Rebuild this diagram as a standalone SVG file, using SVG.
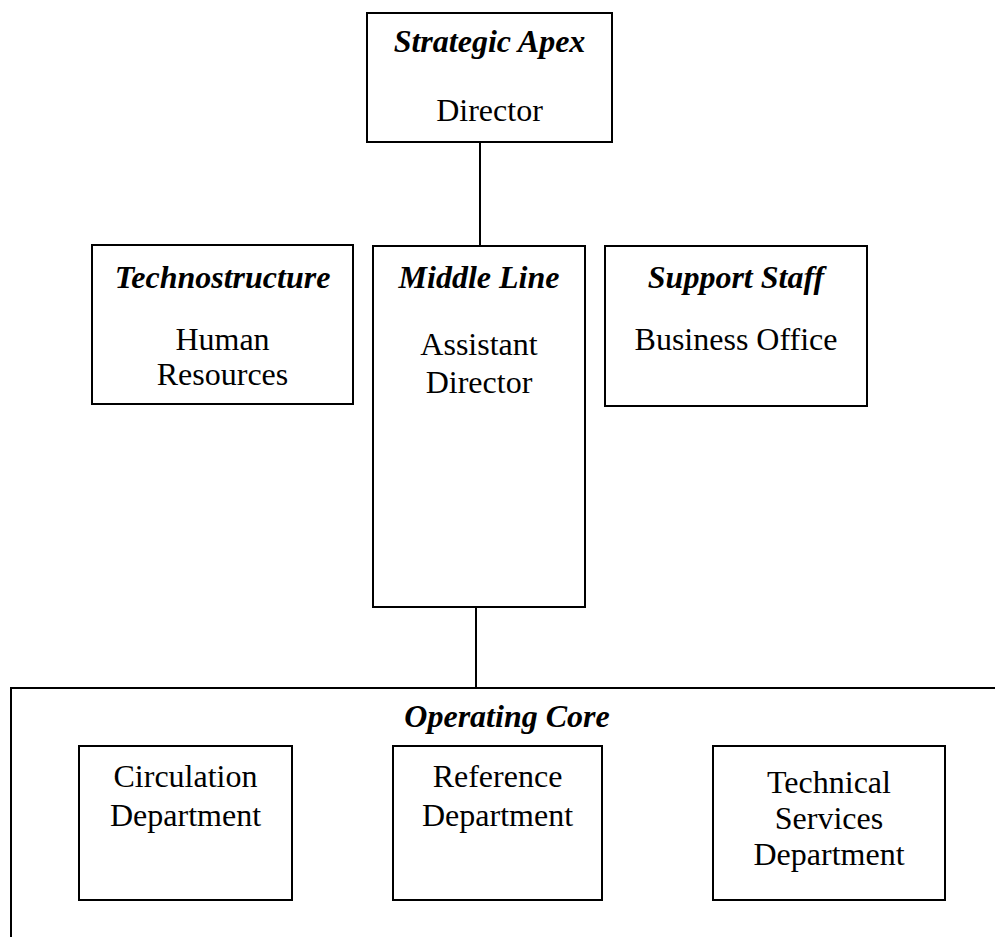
<svg xmlns="http://www.w3.org/2000/svg" width="995" height="937" viewBox="0 0 995 937">
  <style>
    .box { fill: #ffffff; stroke: #000000; stroke-width: 2; }
    .wire { fill: none; stroke: #000000; stroke-width: 2; }
    text { font-family: "Liberation Serif", "Times New Roman", serif; font-size: 32px; fill: #000000; text-anchor: middle; }
    .title { font-weight: bold; font-style: italic; }
  </style>
  <rect width="995" height="937" fill="#ffffff"/>

  <g id="connectors">
    <line class="wire" x1="480" y1="142" x2="480" y2="246"/>
    <line class="wire" x1="476" y1="607" x2="476" y2="688"/>
    <!-- operating core frame (open on the right and bottom) -->
    <polyline class="wire" points="11,937 11,688 995,688"/>
  </g>

  <g id="strategic-apex">
    <rect class="box" x="367" y="13" width="245" height="129"/>
    <text class="title" x="489.5" y="52">Strategic Apex</text>
    <text x="489.5" y="121">Director</text>
  </g>

  <g id="technostructure">
    <rect class="box" x="92" y="245" width="261" height="159"/>
    <text class="title" x="222.5" y="288">Technostructure</text>
    <text x="222.5" y="350">Human</text>
    <text x="222.5" y="385">Resources</text>
  </g>

  <g id="middle-line">
    <rect class="box" x="373" y="246" width="212" height="361"/>
    <text class="title" x="479" y="288">Middle Line</text>
    <text x="479" y="355">Assistant</text>
    <text x="479" y="393">Director</text>
  </g>

  <g id="support-staff">
    <rect class="box" x="605" y="246" width="262" height="160"/>
    <text class="title" x="736" y="288">Support Staff</text>
    <text x="736" y="350">Business Office</text>
  </g>

  <g id="operating-core">
    <text class="title" x="507" y="727">Operating Core</text>
  </g>

  <g id="circulation">
    <rect class="box" x="79" y="746" width="213" height="154"/>
    <text x="185.5" y="787">Circulation</text>
    <text x="185.5" y="826">Department</text>
  </g>

  <g id="reference">
    <rect class="box" x="393" y="746" width="209" height="154"/>
    <text x="497.5" y="787">Reference</text>
    <text x="497.5" y="826">Department</text>
  </g>

  <g id="technical-services">
    <rect class="box" x="713" y="746" width="232" height="154"/>
    <text x="829" y="793">Technical</text>
    <text x="829" y="829">Services</text>
    <text x="829" y="865">Department</text>
  </g>
</svg>
